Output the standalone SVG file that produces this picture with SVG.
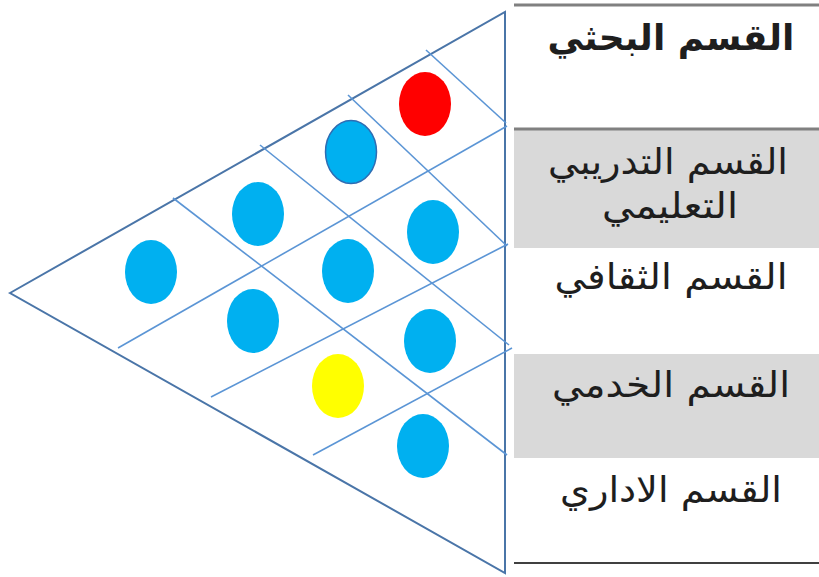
<svg xmlns="http://www.w3.org/2000/svg" width="819" height="577" viewBox="0 0 819 577">
<style>
.edge{fill:none;stroke:#4a75a8;stroke-width:2}
.grid{fill:none;stroke:#5b95d5;stroke-width:1.6}
.dot{fill:#00b0f0}
.lbl{font-family:"DejaVu Sans",sans-serif;font-size:36px;fill:#1e1e1e;text-anchor:middle}
.band{fill:#d9d9d9}
</style>
<rect width="819" height="577" fill="#ffffff"/>
<g id="table">
<rect class="band" x="514" y="130" width="305" height="118"/>
<rect class="band" x="514" y="354" width="305" height="104"/>
<line x1="514" y1="5" x2="819" y2="5" stroke="#808080" stroke-width="3"/>
<line x1="514" y1="129" x2="819" y2="129" stroke="#808080" stroke-width="3"/>
<line x1="514" y1="563" x2="819" y2="563" stroke="#404040" stroke-width="2"/>
</g>
<g id="triangle">
<polygon class="edge" points="10,293 505,12 505,573"/>
</g>
<g id="connectors">
<line class="grid" x1="173" y1="198" x2="507" y2="455"/>
<line class="grid" x1="260" y1="145" x2="509" y2="345"/>
<line class="grid" x1="348" y1="95" x2="507" y2="246"/>
<line class="grid" x1="426" y1="50" x2="506" y2="123"/>
<line class="grid" x1="118" y1="348" x2="507" y2="126"/>
<line class="grid" x1="211" y1="397" x2="508" y2="244"/>
<line class="grid" x1="313" y1="455" x2="512" y2="348"/>
</g>
<g id="dots">
<ellipse cx="425" cy="104" rx="26" ry="32" fill="#ff0000"/>
<ellipse cx="351" cy="152" rx="25.5" ry="31.5" fill="#00b0f0" stroke="#2e6db3" stroke-width="1.5"/>
<ellipse class="dot" cx="258" cy="214" rx="26" ry="32"/>
<ellipse class="dot" cx="433" cy="232" rx="26" ry="32"/>
<ellipse class="dot" cx="151" cy="272" rx="26" ry="32"/>
<ellipse class="dot" cx="348" cy="271" rx="26" ry="32"/>
<ellipse class="dot" cx="253" cy="321" rx="26" ry="32"/>
<ellipse class="dot" cx="430" cy="341" rx="26" ry="32"/>
<ellipse cx="338" cy="386" rx="26" ry="32" fill="#ffff00"/>
<ellipse class="dot" cx="423" cy="446" rx="26" ry="32"/>
</g>
<g id="row1"><text class="lbl" x="671" y="50" font-weight="bold">القسم البحثي</text></g>
<g id="row2"><text class="lbl" x="668" y="174" textLength="240" lengthAdjust="spacingAndGlyphs">القسم التدريبي</text><text class="lbl" x="670" y="218" textLength="136" lengthAdjust="spacingAndGlyphs">التعليمي</text></g>
<g id="row3"><text class="lbl" x="671" y="289" textLength="233" lengthAdjust="spacingAndGlyphs">القسم الثقافي</text></g>
<g id="row4"><text class="lbl" x="671" y="397" textLength="238" lengthAdjust="spacingAndGlyphs">القسم الخدمي</text></g>
<g id="row5"><text class="lbl" x="671" y="502" textLength="222" lengthAdjust="spacingAndGlyphs">القسم الاداري</text></g>
</svg>
